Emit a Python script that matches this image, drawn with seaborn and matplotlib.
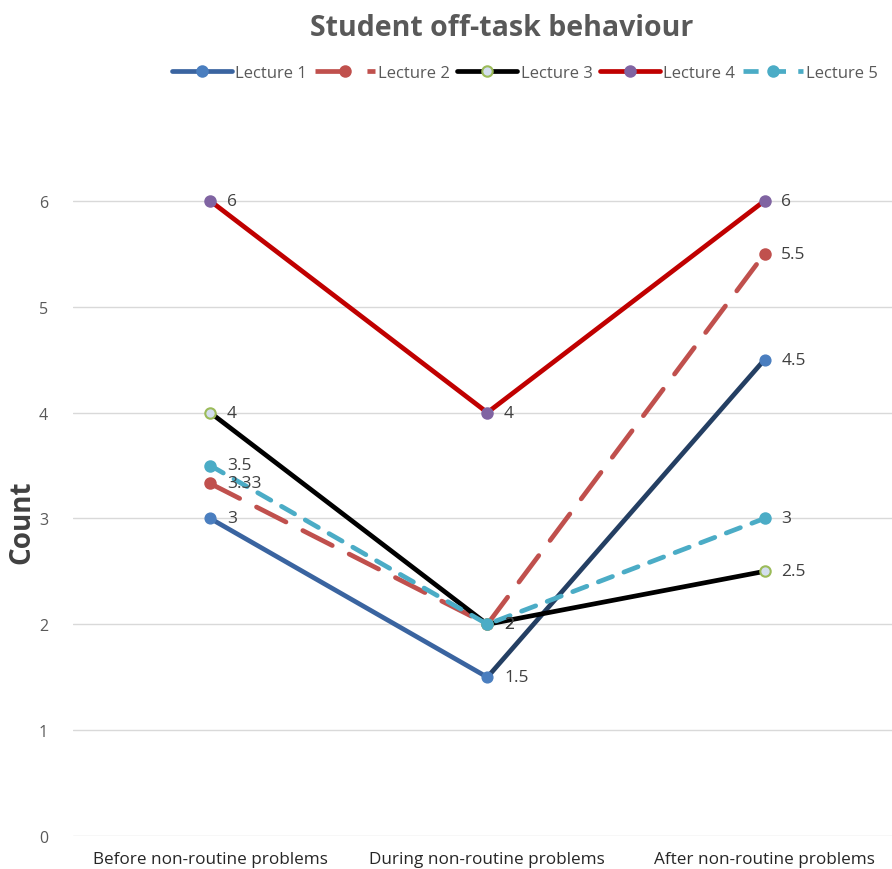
import matplotlib
matplotlib.use("Agg")
import matplotlib.pyplot as plt
import seaborn as sns
import pandas as pd
from matplotlib.lines import Line2D

# Phases of the lesson (x categories)
phases = ["Before non-routine problems", "During non-routine problems", "After non-routine problems"]

# Off-task counts per lecture
lecture_1 = [3, 1.5, 4.5]
lecture_2 = [3.33, 2, 5.5]
lecture_3 = [4, 2, 2.5]
lecture_4 = [6, 4, 6]
lecture_5 = [3.5, 2, 3]

series_names = ["Lecture 1", "Lecture 2", "Lecture 3", "Lecture 4", "Lecture 5"]
series_values = [lecture_1, lecture_2, lecture_3, lecture_4, lecture_5]

rows = []
for name, vals in zip(series_names, series_values):
    for ph, v in zip(phases, vals):
        rows.append({"Lecture": name, "Phase": ph, "Count": v})
df = pd.DataFrame(rows)

sns.set_theme(style="white")
plt.rcParams["font.family"] = ["Open Sans", "DejaVu Sans"]

styles = {
    "Lecture 1": dict(color="#3A64A0", mfc="#4A7EBF", mec="#4A7EBF", dashes=None),
    "Lecture 2": dict(color="#C0504D", mfc="#C0504D", mec="#C0504D", dashes=(7.0, 4.0)),
    "Lecture 3": dict(color="#000000", mfc="#D3DEEE", mec="#9BBB59", dashes=None),
    "Lecture 4": dict(color="#C00000", mfc="#8064A2", mec="#8064A2", dashes=None),
    "Lecture 5": dict(color="#4BACC6", mfc="#4BACC6", mec="#4BACC6", dashes=(3.2, 2.6)),
}

fig = plt.figure(figsize=(8.92, 8.70), dpi=100)
ax = fig.add_axes([73 / 892, 33 / 870, 1 - 73 / 892, (774 - 33) / 870])

lw = 3.4
for name in series_names:
    st = styles[name]
    sub = df[df["Lecture"] == name]
    kw = dict(data=sub, x="Phase", y="Count", ax=ax, sort=False, color=st["color"],
              linewidth=lw, marker="o", markersize=7.5, markerfacecolor=st["mfc"],
              markeredgecolor=st["mec"], markeredgewidth=1.5, legend=False)
    if name == "Lecture 1":
        # first segment in mid blue, rising segment in dark navy
        sns.lineplot(data=sub.iloc[:2], x="Phase", y="Count", ax=ax, sort=False,
                     color=st["color"], linewidth=lw, legend=False)
        sns.lineplot(data=sub.iloc[1:], x="Phase", y="Count", ax=ax, sort=False,
                     color="#243F63", linewidth=lw, legend=False)
        sns.scatterplot(data=sub, x="Phase", y="Count", ax=ax, color=st["mfc"],
                        s=60, edgecolor=st["mec"], linewidth=1.0, legend=False, zorder=3)
    else:
        sns.lineplot(**kw)
        line = ax.lines[-1]
        if st["dashes"] is not None:
            line.set_dashes(st["dashes"])
            line.set_dash_capstyle("round")
        line.set_solid_capstyle("round")

# data labels
label_texts = {
    "Lecture 1": ["3", "1.5", "4.5"],
    "Lecture 2": ["3.33", "2", "5.5"],
    "Lecture 3": ["4", "2", "2.5"],
    "Lecture 4": ["6", "4", "6"],
    "Lecture 5": ["3.5", "2", "3"],
}
for name, vals in zip(series_names, series_values):
    for i, v in enumerate(vals):
        ax.annotate(label_texts[name][i], (i, v), xytext=(12, 0), textcoords="offset points",
                    ha="left", va="center", fontsize=12.5, color="#404040", zorder=5)

ax.set_xlim(-0.495, 2.46)
ax.set_ylim(0, 7)
ax.set_yticks(range(0, 7))
ax.grid(axis="y", color="#D9D9D9", linewidth=1.0)
ax.grid(axis="x", visible=False)
for sp in ax.spines.values():
    sp.set_visible(False)
ax.tick_params(axis="y", length=0, pad=18, labelsize=11.5, labelcolor="#595959")
ax.tick_params(axis="x", length=0, pad=11, labelsize=12.3, labelcolor="#262626")
ax.set_xlabel("")
ax.set_ylabel("Count", fontsize=20, fontweight="bold", color="#404040")
ax.yaxis.set_label_coords(-0.045, 0.425)

fig.text(502 / 892, 1 - 28 / 870, "Student off-task behaviour", ha="center", va="center",
         fontsize=20.5, fontweight="bold", color="#595959")

handles = []
for name in series_names:
    st = styles[name]
    h = Line2D([0], [0], color=st["color"], linewidth=lw, marker="o", markersize=7.5,
               markerfacecolor=st["mfc"], markeredgecolor=st["mec"], markeredgewidth=1.5)
    if st["dashes"] is not None:
        h.set_dashes(st["dashes"])
    handles.append(h)
fig.legend(handles, series_names, loc="center", bbox_to_anchor=(525 / 892, 1 - 74 / 870),
           ncol=5, frameon=False, fontsize=12, handlelength=3.6, handletextpad=0.2,
           columnspacing=0.45, labelcolor="#595959")

fig.savefig("out.png", dpi=100)
